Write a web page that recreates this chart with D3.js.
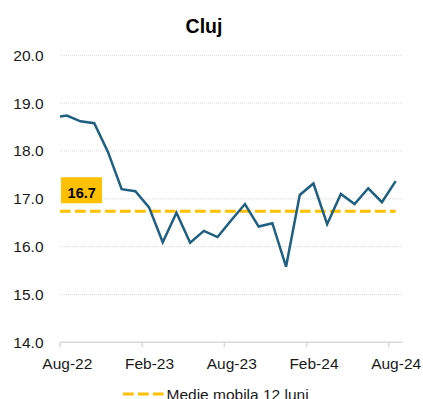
<!DOCTYPE html>
<html>
<head>
<meta charset="utf-8">
<script src="https://cdn.jsdelivr.net/npm/d3@7"></script>
<style>
  body { margin: 0; background: #fff; }
  svg { display: block; }
  text { font-family: "Liberation Sans", Arial, sans-serif; }
</style>
</head>
<body>
<svg id="chart" width="423" height="399"></svg>
<script>
// Monthly series for Cluj (Jul-22 sits just left of the plot and is clipped)
const months = ["Jul-22", "Aug-22", "Sep-22", "Oct-22", "Nov-22", "Dec-22",
  "Jan-23", "Feb-23", "Mar-23", "Apr-23", "May-23", "Jun-23", "Jul-23",
  "Aug-23", "Sep-23", "Oct-23", "Nov-23", "Dec-23", "Jan-24", "Feb-24",
  "Mar-24", "Apr-24", "May-24", "Jun-24", "Jul-24", "Aug-24"];
const values = [18.70, 18.74, 18.62, 18.58, 17.98, 17.20,
  17.16, 16.82, 16.09, 16.71, 16.08, 16.33, 16.20,
  16.55, 16.89, 16.42, 16.49, 15.58, 17.08, 17.32,
  16.47, 17.10, 16.89, 17.22, 16.93, 17.37];
const xTickLabels = ["Aug-22", "Feb-23", "Aug-23", "Feb-24", "Aug-24"];
const yTicks = [14, 15, 16, 17, 18, 19, 20];
const movingAverage = 16.74;
const legendLabel = "Medie mobila 12 luni";
const title = "Cluj";

const svg = d3.select("#chart");
const plot = { left: 60, right: 402.5, top: 55.3, bottom: 342.3 };

const x = d3.scalePoint().domain(months)
  .range([plot.left - (plot.right - plot.left) / 25 / 2, plot.right - (plot.right - plot.left) / 25 / 2]);
const step = x.step();
const y = d3.scaleLinear().domain([14, 20]).range([plot.bottom, plot.top]);

const lineColor = "#1f5f7f";
const avgColor = "#ffc000";

// Title
svg.append("text").attr("x", 204).attr("y", 33)
  .attr("text-anchor", "middle").attr("font-size", 19.5).attr("font-weight", "bold")
  .attr("fill", "#000").text(title);

// Horizontal gridlines (dotted)
svg.append("g").selectAll("line").data(yTicks.filter(d => d > 14)).join("line")
  .attr("x1", plot.left).attr("x2", plot.right)
  .attr("y1", d => y(d)).attr("y2", d => y(d))
  .attr("stroke", "#d9d9d9").attr("stroke-width", 1).attr("stroke-dasharray", "1,1");

// Y axis labels
const yAxis = d3.axisLeft(y).tickValues(yTicks).tickFormat(d3.format(".1f")).tickSize(0).tickPadding(0);
const gy = svg.append("g").attr("transform", `translate(43.5,0)`).call(yAxis);
gy.select(".domain").remove();
gy.selectAll("text").attr("font-size", 15.5).attr("fill", "#1a1a1a")
  .attr("font-family", "'Liberation Sans', Arial, sans-serif");

// X axis baseline and tick marks at category boundaries
svg.append("line").attr("x1", plot.left).attr("x2", plot.right)
  .attr("y1", plot.bottom).attr("y2", plot.bottom)
  .attr("stroke", "#d9d9d9").attr("stroke-width", 1.5);
svg.append("g").selectAll("line").data(xTickLabels).join("line")
  .attr("x1", d => x(d) - step / 2).attr("x2", d => x(d) - step / 2)
  .attr("y1", plot.bottom).attr("y2", plot.bottom + 5)
  .attr("stroke", "#d9d9d9").attr("stroke-width", 1.5);

// X labels centred on their months
const xAxis = d3.axisBottom(x).tickValues(xTickLabels).tickSize(0).tickPadding(0);
const gx = svg.append("g").attr("transform", `translate(0,${plot.bottom + 16})`).call(xAxis);
gx.select(".domain").remove();
gx.selectAll("text").attr("font-size", 15.5).attr("fill", "#1a1a1a")
  .attr("font-family", "'Liberation Sans', Arial, sans-serif");

// Clip to the plot area
svg.append("clipPath").attr("id", "plotClip").append("rect")
  .attr("x", plot.left).attr("y", 0).attr("width", plot.right - plot.left).attr("height", plot.bottom);

// Moving average
const yAvg = y(movingAverage);
svg.append("line")
  .attr("x1", plot.left).attr("x2", x(months[months.length - 1]))
  .attr("y1", yAvg).attr("y2", yAvg)
  .attr("stroke", avgColor).attr("stroke-width", 3.2).attr("stroke-dasharray", "10.7,4.3");

// Series line
const line = d3.line().x((d, i) => x(months[i])).y(d => y(d));
svg.append("path").datum(values)
  .attr("clip-path", "url(#plotClip)")
  .attr("d", line).attr("fill", "none")
  .attr("stroke", lineColor).attr("stroke-width", 2.5).attr("stroke-linejoin", "miter");

// Value tag for the moving average
const tag = svg.append("g");
tag.append("rect").attr("x", 61).attr("y", yAvg - 34).attr("width", 41).attr("height", 26)
  .attr("fill", avgColor);
tag.append("text").attr("x", 81.7).attr("y", yAvg - 13.5)
  .attr("text-anchor", "middle").attr("font-size", 14.5).attr("font-weight", "bold")
  .attr("fill", "#000").text(d3.format(".1f")(movingAverage));

// Legend
svg.append("line").attr("x1", 123).attr("x2", 163.5).attr("y1", 394).attr("y2", 394)
  .attr("stroke", avgColor).attr("stroke-width", 3.2).attr("stroke-dasharray", "10.7,4.3");
svg.append("text").attr("x", 166.5).attr("y", 399.5)
  .attr("font-size", 15.5).attr("fill", "#1a1a1a").text(legendLabel);
</script>
</body>
</html>
